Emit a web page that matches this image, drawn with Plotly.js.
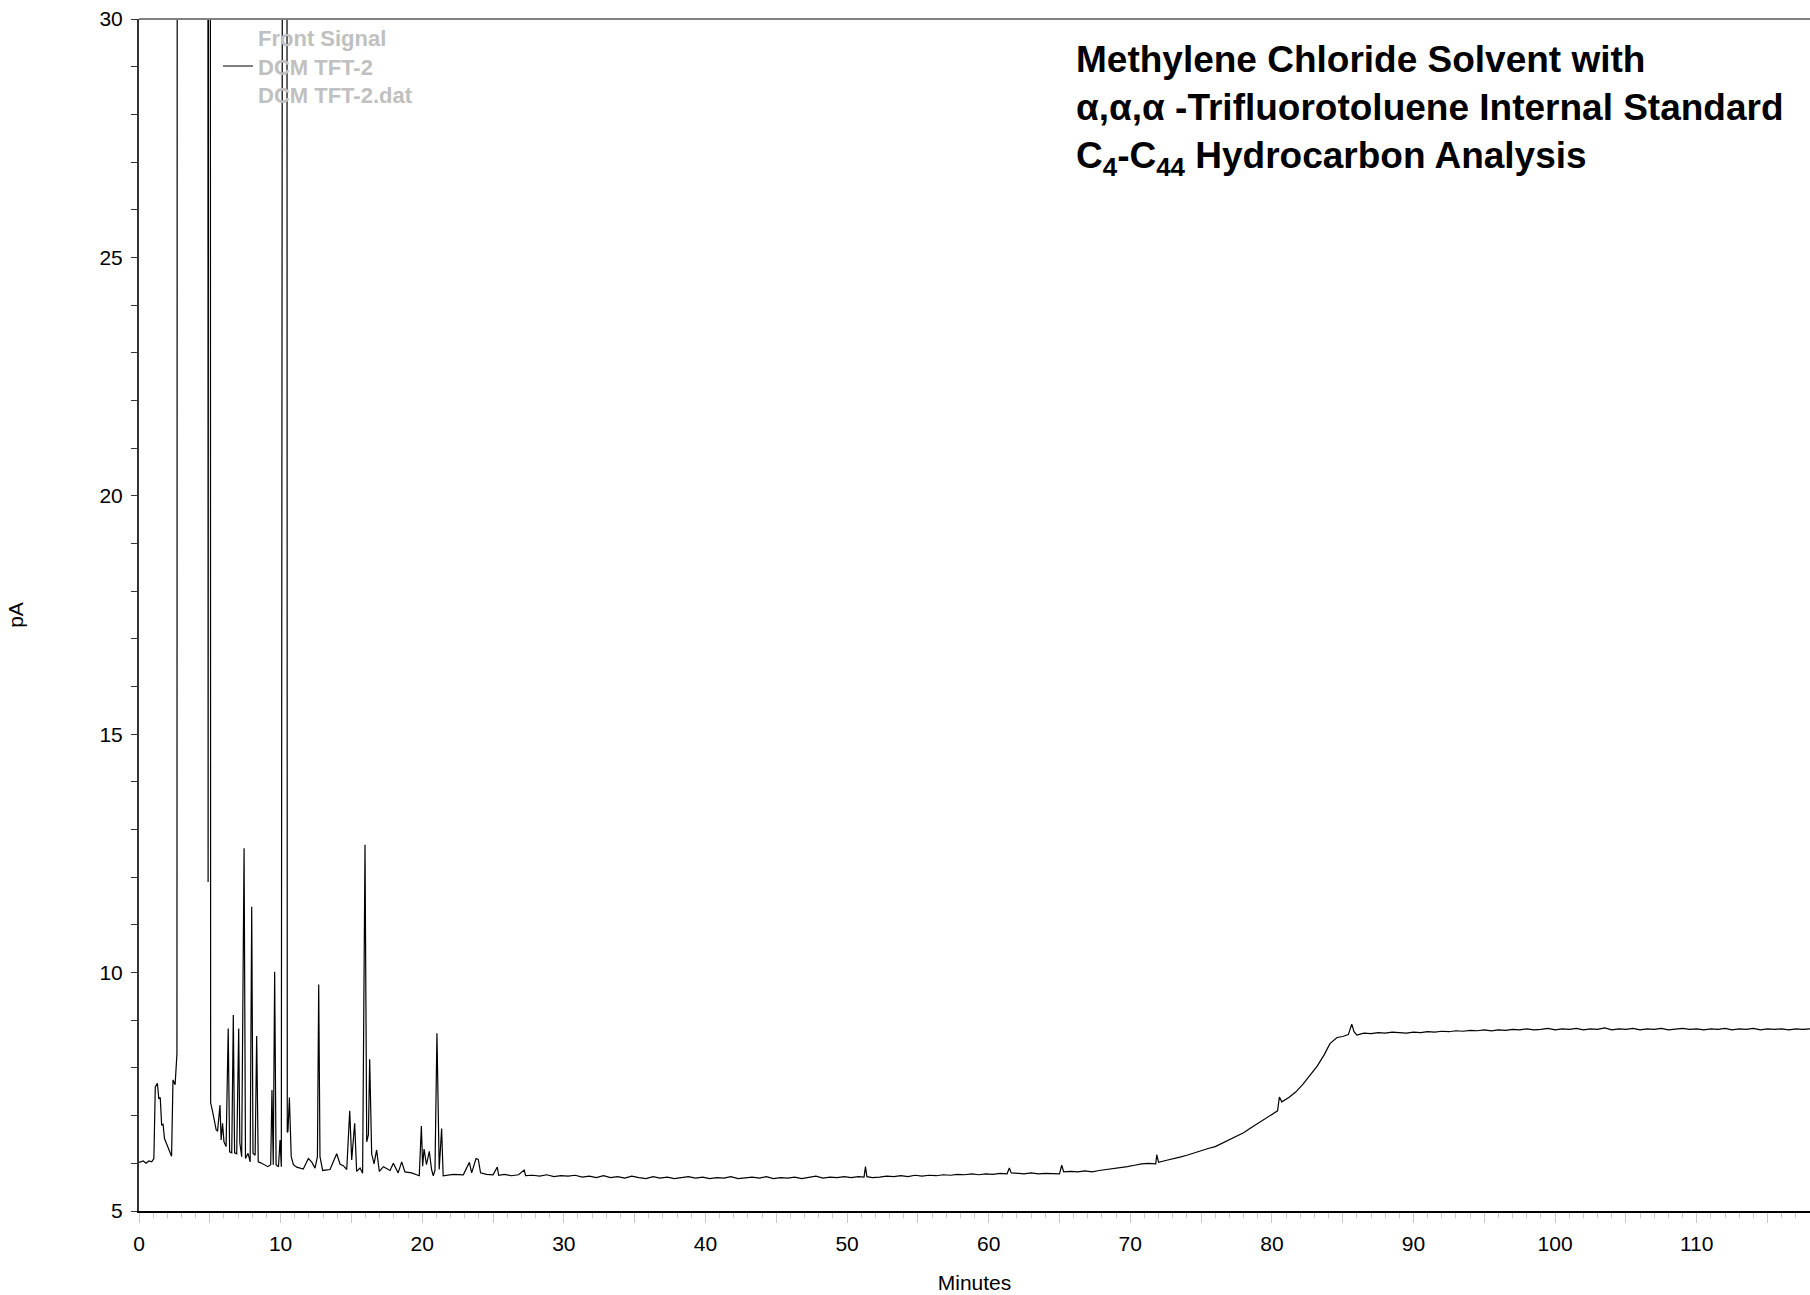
<!DOCTYPE html>
<html>
<head>
<meta charset="utf-8">
<script src="https://cdn.plot.ly/plotly-3.0.1.min.js"></script>
<style>html,body{margin:0;padding:0;background:#fff;}#chart{width:1810px;height:1295px;}</style>
</head>
<body>
<div id="chart"></div>
<script>
// ---- Data (time in minutes, signal in pA; 60 = off-scale) ----
const earlyTime = [0.0,0.3,0.5,0.7,0.9,1.05,1.15,1.3,1.4,1.5,1.6,1.7,1.8,1.95,2.05,2.2,2.3,2.4,2.55,2.68,2.72,4.85,4.88,4.95,5.02,5.06,5.2,5.35,5.45,5.55,5.72,5.8,5.9,6.0,6.15,6.3,6.4,6.55,6.66,6.75,6.9,7.04,7.12,7.25,7.42,7.52,7.7,7.85,7.96,8.05,8.2,8.31,8.42,8.6,8.85,9.1,9.3,9.39,9.48,9.58,9.68,9.85,9.96,10.05,10.2,10.43,10.47,10.52,10.62,10.75,10.9,11.14,11.6,11.96,12.19,12.43,12.6,12.69,12.78,12.97,13.49,13.96,14.2,14.43,14.67,14.88,15.02,15.23,15.37,15.61,15.79,15.96,16.08,16.2,16.29,16.43,16.6,16.78,16.97,17.26,17.73,17.96,18.3,18.55,18.78,19.25,19.79,19.94,20.03,20.13,20.3,20.5,20.66,20.78,20.9,21.04,21.2,21.37,21.48,22.19,22.9,23.33,23.49,23.8,23.96,24.12,24.55];
const earlySignal = [6.02,6.05,6.0,6.05,6.03,6.1,7.6,7.68,7.35,7.38,6.8,6.82,6.52,6.4,6.3,6.22,6.15,7.75,7.65,8.3,60,60,11.9,60,60,7.27,7.08,6.87,6.7,6.68,7.22,6.49,6.84,6.45,6.35,8.83,6.24,6.22,9.11,6.22,6.2,8.83,6.43,6.14,12.61,6.1,6.21,6.03,11.38,6.21,6.17,8.67,6.03,6.01,5.97,5.93,5.97,7.54,5.97,10.02,5.97,5.93,6.49,5.93,60,60,6.65,6.67,7.38,6.14,5.97,5.92,5.88,6.1,6.03,5.9,6.14,9.75,6.14,5.85,5.87,6.2,5.98,5.95,5.87,7.1,6.07,6.84,5.83,5.9,5.79,12.68,6.45,6.6,8.18,6.2,5.99,6.28,5.83,5.93,5.85,6.0,5.8,6.03,5.82,5.8,5.74,6.78,5.94,6.3,5.97,6.25,5.87,5.74,5.85,8.73,5.87,6.73,5.74,5.77,5.76,6.02,5.8,6.1,6.08,5.8,5.77];

const midTime = [25.0,25.3,25.4,25.8,26.3,26.8,27.2,27.3,27.8,28.3,28.8,29.3,29.8,30.3,30.8,31.3,31.8,32.3,32.8,33.3,33.8,34.3,34.8,35.3,35.8,36.3,36.8,37.3,37.8,38.3,38.8,39.3,39.8,40.3,40.8,41.3,41.8,42.3,42.8,43.3,43.8,44.3,44.8,45.3,45.8,46.3,46.8,47.3,47.8,48.3,48.8,49.3,49.8,50.3,50.8,51.2,51.3,51.4,51.8,52.3,52.8,53.3,53.8,54.3,54.8,55.3,55.8,56.3,56.8,57.3,57.8,58.3,58.8,59.3,59.8,60.3,60.8,61.3,61.46,61.6,62.0];
const midSignal = [5.76,5.92,5.75,5.77,5.74,5.76,5.86,5.74,5.75,5.73,5.76,5.72,5.74,5.73,5.75,5.71,5.73,5.70,5.74,5.70,5.72,5.69,5.73,5.70,5.68,5.72,5.69,5.71,5.68,5.70,5.72,5.69,5.71,5.68,5.70,5.69,5.72,5.68,5.70,5.71,5.69,5.72,5.68,5.70,5.69,5.71,5.68,5.70,5.73,5.69,5.71,5.70,5.72,5.70,5.72,5.71,5.93,5.72,5.70,5.71,5.73,5.72,5.74,5.72,5.75,5.73,5.75,5.74,5.76,5.75,5.77,5.76,5.78,5.76,5.78,5.77,5.79,5.78,5.90,5.80,5.79];

const lateTime = [62.5,63.0,63.5,64.0,64.5,65.0,65.16,65.3,65.8,66.3,66.8,67.3,67.8,68.3,68.8,69.3,69.8,70.3,70.8,71.3,71.8,71.87,72.0,72.5,73.0,73.5,74.0,74.5,75.0,75.5,76.0,76.5,77.0,77.5,78.0,78.5,79.0,79.5,80.0,80.4,80.53,80.7,81.2,81.7,82.2,82.7,83.2,83.7,84.1,84.6,85.0,85.4,85.64,85.8,86.0,86.5,87.0,87.5,88.0,88.5,89.0,89.5,90.0,90.5,91.0,91.5,92.0,92.5,93.0,93.5,94.0,94.5,95.0,95.5,96.0,96.5,97.0,97.5,98.0,98.5,99.0,99.5,100.0,100.5,101.0,101.5,102.0,102.5,103.0,103.5,104.0,104.5,105.0,105.5,106.0,106.5,107.0,107.5,108.0,108.5,109.0,109.5,110.0,110.5,111.0,111.5,112.0,112.5,113.0,113.5,114.0,114.5,115.0,115.5,116.0,116.5,117.0,117.5,118.0];
const lateSignal = [5.78,5.80,5.78,5.79,5.78,5.78,5.96,5.82,5.83,5.82,5.84,5.82,5.85,5.87,5.88,5.90,5.93,5.96,5.99,6.00,5.99,6.18,6.02,6.06,6.09,6.13,6.17,6.22,6.26,6.31,6.35,6.42,6.49,6.56,6.64,6.74,6.83,6.92,7.02,7.10,7.39,7.29,7.38,7.50,7.66,7.84,8.04,8.28,8.51,8.64,8.66,8.70,8.92,8.76,8.69,8.73,8.72,8.74,8.73,8.75,8.74,8.73,8.75,8.74,8.76,8.75,8.77,8.76,8.78,8.77,8.79,8.78,8.80,8.78,8.80,8.79,8.81,8.80,8.82,8.80,8.81,8.83,8.80,8.82,8.81,8.83,8.80,8.82,8.81,8.84,8.80,8.82,8.81,8.83,8.80,8.82,8.81,8.83,8.80,8.82,8.83,8.81,8.82,8.80,8.82,8.81,8.83,8.80,8.82,8.81,8.83,8.80,8.82,8.81,8.82,8.80,8.82,8.81,8.82];

// Axis ticks: x labelled every 10 min (ticks every 5, minor every 1); y labelled every 5 pA
const xRange = [0, 118];
const xTickStep = 5;
const xLabelEvery = 2;
const yTickVals = [5, 10, 15, 20, 25, 30];
const yTickText = ["5", "10", "15", "20", "25", "30"];

const legendName = "Front Signal<br>DCM TFT-2<br>DCM TFT-2.dat";
const chartTitle = "Methylene Chloride Solvent with<br>α,α,α -Trifluorotoluene Internal Standard<br>C<sub>4</sub>-C<sub>44</sub> Hydrocarbon Analysis";
const xTitle = "Minutes";
const yTitle = "pA";

const FONT = "Liberation Sans, Arial, Helvetica, sans-serif";

const trace = {
  x: earlyTime.concat(midTime, lateTime),
  y: earlySignal.concat(midSignal, lateSignal),
  type: "scatter",
  mode: "lines",
  name: legendName,
  line: {color: "#000000", width: 1.2},
  showlegend: true
};

const layout = {
  width: 1810,
  height: 1295,
  paper_bgcolor: "#ffffff",
  plot_bgcolor: "#ffffff",
  margin: {l: 139, r: 0, t: 19, b: 84, pad: 0},
  font: {family: FONT, size: 21, color: "#000"},
  title: {
    text: chartTitle,
    x: 1076 / 1810,
    xanchor: "left",
    xref: "container",
    y: 1 - 72 / 1295,
    yanchor: "top",
    yref: "container",
    font: {family: FONT, size: 37, color: "#000", weight: "bold"}
  },
  showlegend: true,
  legend: {
    x: (218 - 139) / 1671,
    xanchor: "left",
    y: 1.002,
    yanchor: "top",
    bgcolor: "rgba(0,0,0,0)",
    borderwidth: 0,
    valign: "middle",
    font: {family: FONT, size: 22, color: "#c0c0c0", weight: "bold"}
  },
  xaxis: {
    range: xRange,
    showgrid: false,
    zeroline: false,
    showline: true,
    linecolor: "#000",
    linewidth: 2,
    tickmode: "linear",
    tick0: 0,
    dtick: xTickStep,
    ticklabelstep: xLabelEvery,
    ticks: "outside",
    ticklen: 10,
    tickwidth: 1,
    tickcolor: "#c8c8c8",
    ticklabelstandoff: 3,
    minor: {tickmode: "linear", tick0: 0, dtick: 1, ticks: "outside", ticklen: 5, tickwidth: 1, tickcolor: "#c8c8c8"},
    tickfont: {family: FONT, size: 21, color: "#000"},
    title: {text: xTitle, standoff: 21, font: {family: FONT, size: 21, color: "#000"}}
  },
  yaxis: {
    range: [5, 30],
    showgrid: false,
    zeroline: false,
    showline: true,
    linecolor: "#333",
    linewidth: 2,
    tickmode: "array",
    tickvals: yTickVals,
    ticktext: yTickText,
    ticks: "",
    ticklabelstandoff: 10,
    minor: {tickmode: "linear", tick0: 5, dtick: 1, ticks: "outside", ticklen: 6, tickwidth: 1, tickcolor: "#333"},
    tickfont: {family: FONT, size: 21, color: "#000"},
    title: {text: yTitle, standoff: 70, font: {family: FONT, size: 21, color: "#000"}}
  },
  shapes: [
    {type: "line", xref: "paper", yref: "paper", x0: 0, x1: 1, y0: 1, y1: 1, line: {color: "#808080", width: 2}}
  ]
};

Plotly.newPlot("chart", [trace], layout, {staticPlot: true, displayModeBar: false});
</script>
</body>
</html>
